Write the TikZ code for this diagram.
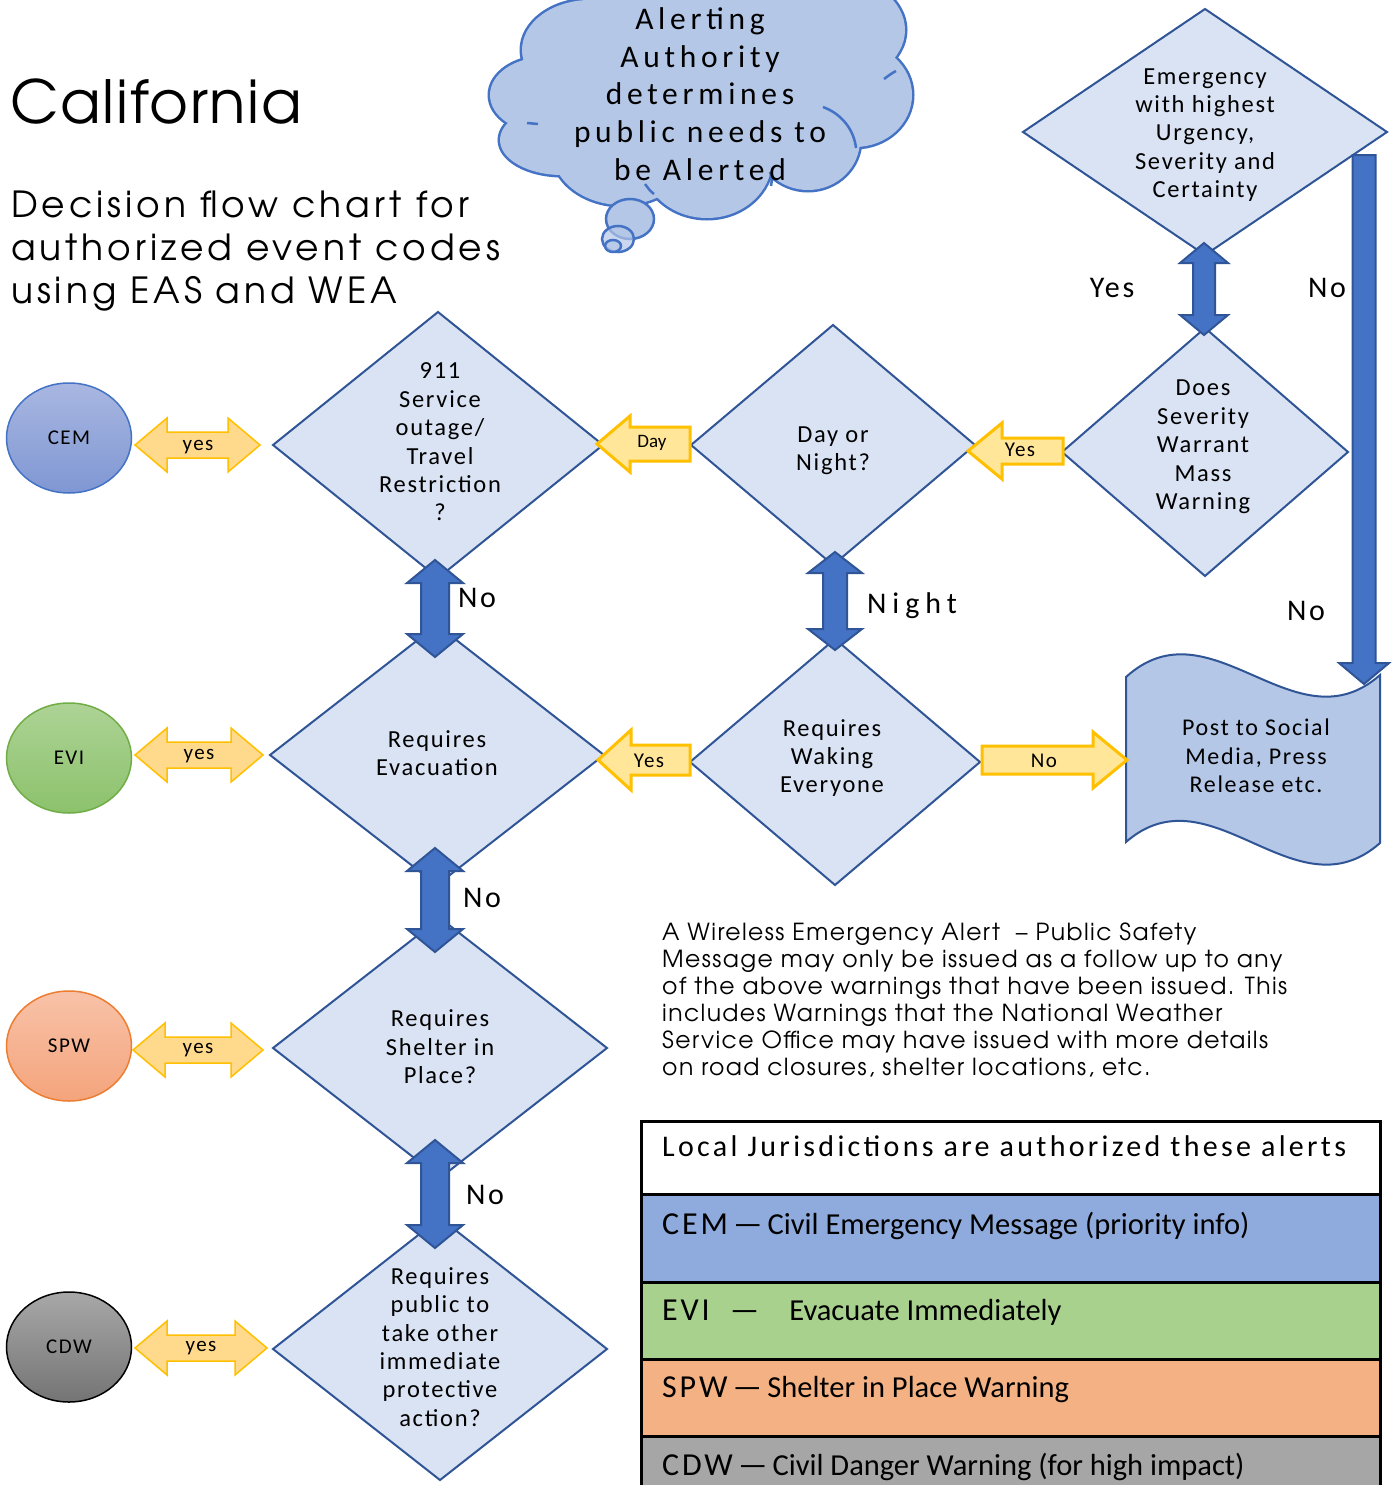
\documentclass[tikz,border=0pt]{standalone}
\usepackage{fontspec}
\setmainfont{Carlito}
\newfontfamily\dtxt[LetterSpace=7]{Carlito}
\newfontfamily\wtxt[LetterSpace=15]{Carlito}
\newfontfamily\ntxt[LetterSpace=20]{Carlito}
\newfontfamily\ltxt[LetterSpace=9]{Carlito}
\newfontfamily\htxt[LetterSpace=11]{Carlito}
\newfontfamily\ctxt{Carlito}
\newfontfamily\gtitle[LetterSpace=3]{TeX Gyre Adventor}
\newfontfamily\gsub[LetterSpace=11]{TeX Gyre Adventor}
\newfontfamily\gpar[LetterSpace=6]{TeX Gyre Adventor}
\usetikzlibrary{shapes.geometric}
\definecolor{dfill}{HTML}{DAE3F3}
\definecolor{dline}{HTML}{2F5597}
\definecolor{bfill}{HTML}{4472C4}
\definecolor{yfill}{HTML}{FFE699}
\definecolor{yfilltwo}{HTML}{FFD98C}
\definecolor{yline}{HTML}{FFC000}
\definecolor{cfill}{HTML}{B4C7E7}
\definecolor{cline}{HTML}{4472C4}
\definecolor{tcem}{HTML}{8FAADC}
\definecolor{tevi}{HTML}{A9D18E}
\definecolor{tspw}{HTML}{F4B183}
\definecolor{tcdw}{HTML}{A6A6A6}
\definecolor{cemtop}{HTML}{A9B7E1}
\definecolor{cembot}{HTML}{7F97D3}
\definecolor{evitop}{HTML}{ADD395}
\definecolor{evibot}{HTML}{8CC26C}
\definecolor{eviline}{HTML}{70AD47}
\definecolor{spwtop}{HTML}{F8C2A8}
\definecolor{spwbot}{HTML}{F4A47C}
\definecolor{spwline}{HTML}{ED7D31}
\definecolor{cdwtop}{HTML}{A8A8A8}
\definecolor{cdwbot}{HTML}{747474}
% horizontal double arrow: style, x1, x2, y, shaft half, head half, head length
\newcommand\hdarr[7]{\draw[#1] (#2,#4) -- ({#2+#7},{#4-#6}) -- ({#2+#7},{#4-#5}) -- ({#3-#7},{#4-#5}) -- ({#3-#7},{#4-#6}) -- (#3,#4) -- ({#3-#7},{#4+#6}) -- ({#3-#7},{#4+#5}) -- ({#2+#7},{#4+#5}) -- ({#2+#7},{#4+#6}) -- cycle;}
% vertical double arrow: style, x, y1, y2, shaft half, head half, head length
\newcommand\vdarr[7]{\draw[#1] (#2,#3) -- ({#2+#6},{#3+#7}) -- ({#2+#5},{#3+#7}) -- ({#2+#5},{#4-#7}) -- ({#2+#6},{#4-#7}) -- (#2,#4) -- ({#2-#6},{#4-#7}) -- ({#2-#5},{#4-#7}) -- ({#2-#5},{#3+#7}) -- ({#2-#6},{#3+#7}) -- cycle;}
% left single arrow: style, xtip, xtail, y, shaft half, head half, head length
\newcommand\larr[7]{\draw[#1] (#2,#4) -- ({#2+#7},{#4-#6}) -- ({#2+#7},{#4-#5}) -- (#3,{#4-#5}) -- (#3,{#4+#5}) -- ({#2+#7},{#4+#5}) -- ({#2+#7},{#4+#6}) -- cycle;}
% right single arrow
\newcommand\rarr[7]{\draw[#1] (#2,#4) -- ({#2-#7},{#4-#6}) -- ({#2-#7},{#4-#5}) -- (#3,{#4-#5}) -- (#3,{#4+#5}) -- ({#2-#7},{#4+#5}) -- ({#2-#7},{#4+#6}) -- cycle;}
% down single arrow: style, x, ytail, ytip, shaft half, head half, head length
\newcommand\dnarr[7]{\draw[#1] (#2,#4) -- ({#2+#6},{#4-#7}) -- ({#2+#5},{#4-#7}) -- ({#2+#5},#3) -- ({#2-#5},#3) -- ({#2-#5},{#4-#7}) -- ({#2-#6},{#4-#7}) -- cycle;}
\begin{document}
\begin{tikzpicture}[x=1pt,y=-1pt,
  dia/.style={diamond, draw=dline, fill=dfill, line width=2pt, inner sep=0pt, outer sep=0pt},
  dlabel/.style={align=center, inner sep=0pt, font=\dtxt\fontsize{24.5}{28.4}\selectfont},
  biglabel/.style={inner sep=0pt, font=\ltxt\fontsize{30}{36}\selectfont},
  alabel/.style={inner sep=0pt, font=\dtxt\fontsize{21}{25}\selectfont},
  circ/.style={ellipse, line width=1.5pt, minimum width=125pt, minimum height=110pt, inner sep=0pt, font=\dtxt\fontsize{21}{25}\selectfont},
  yd/.style={fill=yfilltwo, draw=yline, line width=1.5pt, line join=miter},
  ys/.style={fill=yfill, draw=yline, line width=3pt, line join=miter},
  bl/.style={fill=bfill, draw=dline, line width=2pt, line join=miter},
  cl/.style={draw=cline, line width=5pt},
  cf/.style={fill=cfill},
  carc/.style={draw=cline, line width=2.5pt},
  txt/.style={inner sep=0pt}
]
\useasboundingbox (0,0) rectangle (1398,1485);
\clip (0,0) rectangle (1398,1485);
\fill[white] (0,0) rectangle (1398,1485);

% ---------- cloud ----------
\foreach \cx/\cy/\rx/\ry in {545/95/55/38, 562/140/62/35, 622/150/70/55, 707/160/65/58, 808/140/52/50, 855/95/57/52, 830/30/75/55, 700/25/115/60, 590/50/68/50, 700/100/150/80}
  \draw[cl] (\cx,\cy) ellipse [x radius=\rx, y radius=\ry];
\foreach \cx/\cy/\rx/\ry in {545/95/55/38, 562/140/62/35, 622/150/70/55, 707/160/65/58, 808/140/52/50, 855/95/57/52, 830/30/75/55, 700/25/115/60, 590/50/68/50, 700/100/150/80}
  \fill[cf] (\cx,\cy) ellipse [x radius=\rx, y radius=\ry];
\draw[carc] (823,107) .. controls (842,114) and (854,130) .. (856,148);
\draw[carc] (645,184) .. controls (648,188) and (650,191) .. (654,194);
\draw[carc] (770,172) .. controls (772,177) and (772,181) .. (771,186);
\draw[carc] (884,79) .. controls (888,76) and (892,73) .. (896,71);
\draw[carc] (527,123) -- (538,124);
\draw[draw=cline, fill=cfill, line width=2.5pt] (630,219) ellipse [x radius=24, y radius=20];
\draw[draw=cline, fill=cfill, fill opacity=0.7, line width=2.5pt] (618,239) ellipse [x radius=16, y radius=13];
\draw[draw=cline, fill=cfill, fill opacity=0.7, line width=2.5pt] (613,246) ellipse [x radius=8, y radius=6];
\node[align=center, inner sep=0pt, font=\wtxt\fontsize{31.5}{37.7}\selectfont] (cloudtxt) at (700,94) {Alerting\\Authority\\determines\\public needs to\\be Alerted};

% ---------- title ----------
\node[txt, anchor=base west, font=\gtitle\fontsize{59.5}{70}\selectfont] (title) at (10,124) {California};
\node[txt, anchor=base west, font=\gsub\fontsize{36}{43}\selectfont] (sub1) at (11,217) {Decision flow chart for};
\node[txt, anchor=base west, font=\gsub\fontsize{36}{43}\selectfont] (sub2) at (11,260) {authorized event codes};
\node[txt, anchor=base west, font=\gsub\fontsize{36}{43}\selectfont] (sub3) at (11,303) {using EAS and WEA};

% ---------- diamonds ----------
\node[dia, minimum width=364pt, minimum height=246pt] (dem) at (1205,132) {};
\node[dia, minimum width=286pt, minimum height=248pt] (dsev) at (1205,452) {};
\node[dia, minimum width=284pt, minimum height=240pt] (ddn) at (833,445) {};
\node[dia, minimum width=330pt, minimum height=266pt] (d911) at (438,445) {};
\node[dia, minimum width=334pt, minimum height=260pt] (devac) at (437,755) {};
\node[dia, minimum width=290pt, minimum height=246pt] (dwake) at (835,762) {};
\node[dia, minimum width=334pt, minimum height=260pt] (dshel) at (440,1048) {};
\node[dia, minimum width=334pt, minimum height=262pt] (dpub) at (440,1349) {};

\node[dlabel] (demt) at (1205,135) {Emergency\\with highest\\Urgency,\\Severity and\\Certainty};
\node[dlabel] (dsevt) at (1203,447) {Does\\Severity\\Warrant\\Mass\\Warning};
\node[dlabel] (ddnt) at (833,451) {Day or\\Night?};
\node[dlabel] (d911t) at (440,442) {911\\Service\\outage/\\Travel\\Restriction\\?};
\node[dlabel] (devact) at (437,753) {Requires\\Evacuation};
\node[dlabel] (dwaket) at (832,758) {Requires\\Waking\\Everyone};
\node[dlabel] (dshelt) at (440,1047) {Requires\\Shelter in\\Place?};
\node[dlabel] (dpubt) at (440,1347) {Requires\\public to\\take other\\immediate\\protective\\action?};

% ---------- post shape ----------
\draw[fill=cfill, draw=dline, line width=2pt] (1126,677) .. controls (1211,600) and (1295,750) .. (1380,675) -- (1380,843) .. controls (1295,918) and (1211,768) .. (1126,842) -- cycle;
\node[dlabel, font=\dtxt\fontsize{24}{28.5}\selectfont] (post) at (1256,756) {Post to Social\\Media, Press\\Release etc.};

% ---------- circles ----------
\node[circ, draw=cline, top color=cemtop, bottom color=cembot] (cem) at (69,438) {CEM};
\node[circ, draw=eviline, top color=evitop, bottom color=evibot] (evi) at (69,758) {EVI};
\node[circ, draw=spwline, top color=spwtop, bottom color=spwbot] (spw) at (69,1046) {SPW};
\node[circ, draw=black, top color=cdwtop, bottom color=cdwbot] (cdw) at (69,1347) {CDW};

% ---------- yellow double arrows ----------
\hdarr{yd}{135}{260}{445}{13}{27}{32}
\node[alabel] (y1) at (198,447) {yes};
\hdarr{yd}{135}{263}{755}{13}{27}{32}
\node[alabel] (y2) at (199,756) {yes};
\hdarr{yd}{133}{263}{1050}{13}{27}{32}
\node[alabel] (y3) at (198,1050) {yes};
\hdarr{yd}{135}{267}{1348}{13}{27}{32}
\node[alabel] (y4) at (201,1348) {yes};

% ---------- yellow single arrows ----------
\larr{ys}{597}{690}{444}{17}{28}{33}
\node[alabel, font=\ctxt\fontsize{19}{23}\selectfont] (lday) at (652,443) {Day};
\larr{ys}{968}{1063}{451}{13}{28}{34}
\node[alabel] (lyes1) at (1020,450) {Yes};
\larr{ys}{598}{690}{760}{15}{30}{33}
\node[alabel] (lyes2) at (649,761) {Yes};
\rarr{ys}{1127}{982}{760}{14}{28}{34}
\node[alabel] (lno) at (1044,761) {No};

% ---------- blue arrows ----------
\vdarr{bl}{1204}{243}{335}{11}{24}{20}
\vdarr{bl}{435}{560}{657}{14}{28}{23}
\vdarr{bl}{435}{848}{952}{14}{28}{23}
\vdarr{bl}{435}{1140}{1248}{14}{28}{23}
\vdarr{bl}{835}{552}{650}{12}{27}{21}
\dnarr{bl}{1364}{155}{684}{11.5}{25}{21}

\node[biglabel] (lyesbig) at (1112,288) {Yes};
\node[biglabel] (lnotop) at (1327,288) {No};
\node[biglabel] (lnoright) at (1306,611) {No};
\node[biglabel, font=\ntxt\fontsize{30}{36}\selectfont] (lnight) at (912,606) {Night};
\node[biglabel] (lno1) at (477,598) {No};
\node[biglabel] (lno2) at (482,898) {No};
\node[biglabel] (lno3) at (485,1195) {No};

% ---------- paragraph ----------
\node[txt, anchor=north west, align=left, font=\gpar\fontsize{23.5}{27}\selectfont] (para) at (662,923) {A Wireless Emergency Alert \ – Public Safety\\Message may only be issued as a follow up to any\\of the above warnings that have been issued. This\\includes Warnings that the National Weather\\Service Office may have issued with more details\\on road closures, shelter locations, etc.};

% ---------- table ----------
\fill[white] (641,1121) rectangle (1380,1194);
\fill[tcem] (641,1194) rectangle (1380,1282);
\fill[tevi] (641,1282) rectangle (1380,1359);
\fill[tspw] (641,1359) rectangle (1380,1436);
\fill[tcdw] (641,1436) rectangle (1380,1500);
\draw[line width=3pt] (641,1500) -- (641,1121) -- (1380,1121) -- (1380,1500);
\foreach \yy in {1194,1282,1359,1436} \draw[line width=3pt] (641,\yy) -- (1380,\yy);
\node[txt, anchor=base west, font=\htxt\fontsize{30}{36}\selectfont] (thead) at (662,1156) {Local Jurisdictions are authorized these alerts};
\node[txt, anchor=base west] (tr1) at (662,1234) {\ltxt\fontsize{32}{36}\selectfont CEM\,—\,\ctxt\fontsize{30.5}{32}\selectfont Civil Emergency Message (priority info)};
\node[txt, anchor=base west] (tr2) at (662,1320) {\ltxt\fontsize{32}{36}\selectfont EVI \ —\ \ \ \ctxt\fontsize{30.5}{32}\selectfont Evacuate Immediately};
\node[txt, anchor=base west] (tr3) at (662,1397) {\ltxt\fontsize{32}{36}\selectfont SPW\,—\,\ctxt\fontsize{30.5}{32}\selectfont Shelter in Place Warning};
\node[txt, anchor=base west] (tr4) at (662,1475) {\ltxt\fontsize{32}{36}\selectfont CDW\,—\,\ctxt\fontsize{30.5}{32}\selectfont Civil Danger Warning (for high impact)};
\end{tikzpicture}
\end{document}
